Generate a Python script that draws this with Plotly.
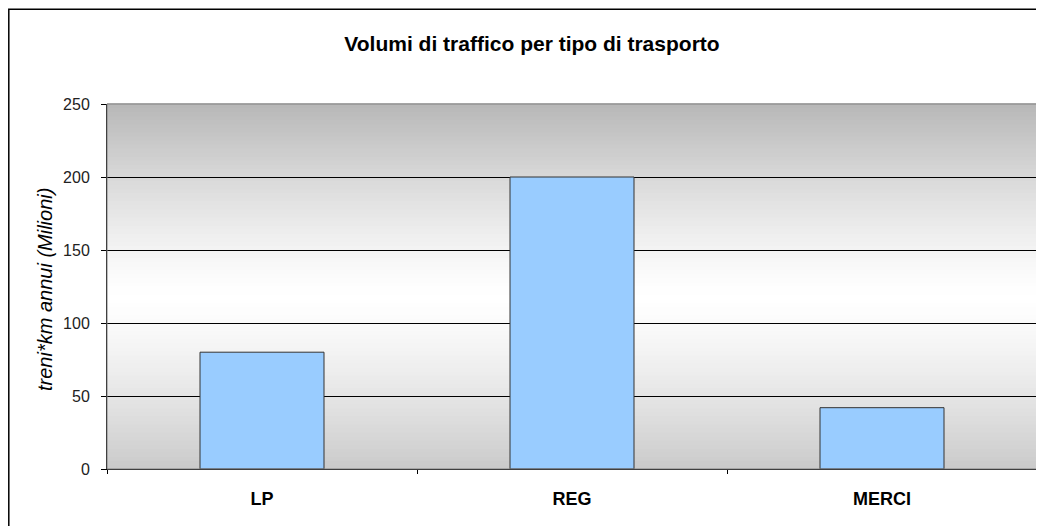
import plotly.graph_objects as go

categories = ["LP", "REG", "MERCI"]
values = [80, 200, 42]
y_ticks = [0, 50, 100, 150, 200, 250]

title_text = "Volumi di traffico per tipo di trasporto"
y_title = "treni*km annui (Milioni)"

# page body has an 8px margin, so the figure is laid out 8px smaller
W, H = 1036, 518
ML, MR, MT, MB = 99, 7, 96, 57
PW, PH = W - ML - MR, H - MT - MB

fig = go.Figure()
fig.add_trace(go.Bar(
    x=categories, y=values, width=0.4,
    marker=dict(color="#99CCFF", line=dict(color="#333333", width=1)),
    hoverinfo="x+y",
))

# background gradient (grey at top/bottom, white in middle)
shapes = []
n = 90
for i in range(n):
    t0 = i / n
    t1 = (i + 1) / n
    tm = (t0 + t1) / 2
    d = abs(tm - 0.47) / 0.53
    drop = 72 if tm > 0.47 else 62
    c = int(round(255 - drop * d ** 1.3))
    shapes.append(dict(type="rect", xref="x domain", yref="y domain",
                       x0=0, x1=1, y0=t0, y1=t1 + 0.002, layer="below",
                       line=dict(width=0), fillcolor=f"rgb({c},{c},{c})"))
# plot area border (top/right grey)
shapes.append(dict(type="rect", xref="x domain", yref="y domain",
                   x0=0, x1=1, y0=0, y1=1, layer="above",
                   line=dict(color="#808080", width=1), fillcolor="rgba(0,0,0,0)"))
# outer chart frame (left and top edges visible; others cropped)
fx0 = (0.8 - ML) / PW
fy0 = -(MB + 30) / PH
fy1 = 1 + (MT - 1.2) / PH
fx1 = 1 + (MR + 20) / PW
shapes.append(dict(type="path", xref="paper", yref="paper",
                   path=f"M {fx0},{fy0} L {fx0},{fy1} L {fx1},{fy1}",
                   line=dict(color="#000000", width=1.5), layer="above"))

fig.update_layout(
    width=W, height=H,
    margin=dict(l=ML, r=MR, t=MT, b=MB),
    paper_bgcolor="white", plot_bgcolor="white",
    showlegend=False,
    shapes=shapes,
    title=dict(text=title_text, x=524 / W, xref="container", xanchor="center",
               y=1 - 36 / H, yref="container", yanchor="middle",
               font=dict(family="Liberation Sans", size=21, color="#000000", weight="bold")),
    font=dict(family="Liberation Sans", size=16, color="#222222"),
)
fig.update_xaxes(
    type="category", showgrid=False, showline=True, linecolor="#000000", linewidth=1,
    ticks="outside", tickson="boundaries", ticklen=4, tickcolor="#000000",
    tickfont=dict(family="Liberation Sans", size=18, color="#000000", weight="bold"),
    ticklabelstandoff=13,
)
fig.update_yaxes(
    range=[0, 250], tickvals=y_ticks, showgrid=True, gridcolor="#000000", gridwidth=1,
    showline=True, linecolor="#000000", linewidth=1, zeroline=False,
    ticks="outside", ticklen=5, tickcolor="#000000",
    tickfont=dict(family="Liberation Sans", size=16, color="#222222"),
    ticklabelstandoff=8,
)
fig.add_annotation(text=y_title, xref="paper", yref="paper",
                   x=(37 - ML) / PW, y=(H - MB - 282) / PH, xanchor="center", yanchor="middle",
                   textangle=-90, showarrow=False,
                   font=dict(family="Liberation Sans", size=20, color="#000000", style="italic"))

fig.write_html("out.html")
